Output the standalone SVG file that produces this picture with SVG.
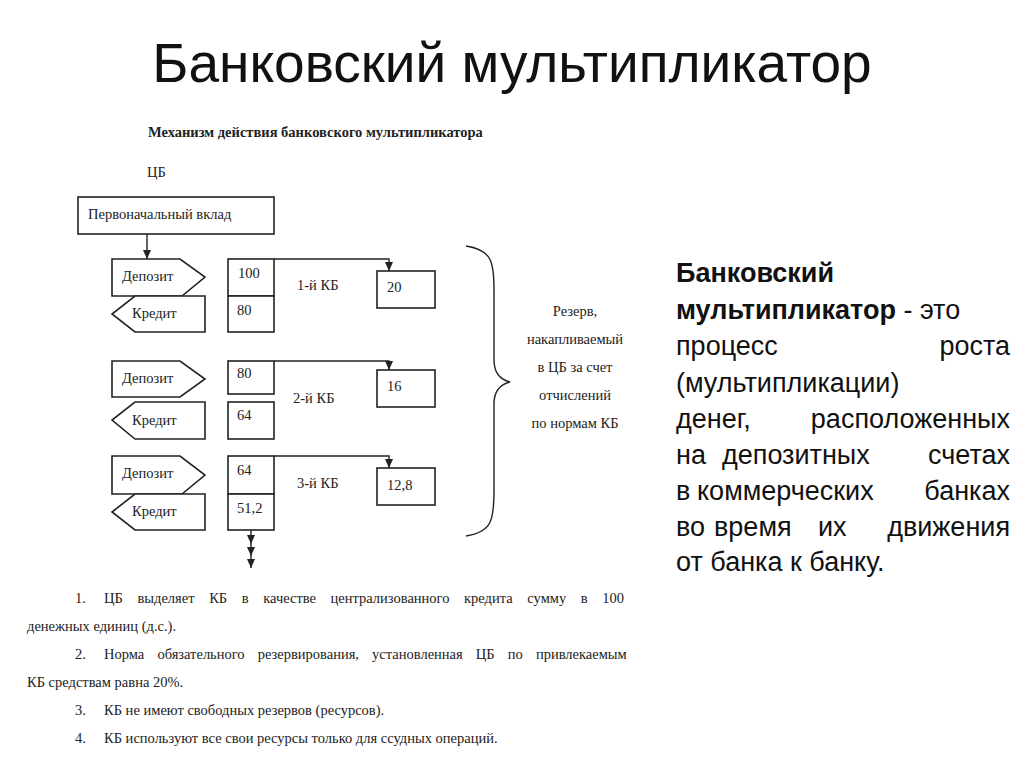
<svg xmlns="http://www.w3.org/2000/svg" width="1024" height="767" viewBox="0 0 1024 767">
<style>
.s{font-family:"Liberation Serif",serif;font-size:14.5px;fill:#222}
.b{fill:#fff;stroke:#222;stroke-width:1.6}
.l{fill:none;stroke:#222;stroke-width:1.4}
.r{font-family:"Liberation Sans",Arial,sans-serif;font-size:27px;fill:#111}
</style>
<defs><marker id="a" markerWidth="10" markerHeight="10" refX="5" refY="9" orient="0" markerUnits="userSpaceOnUse"><path d="M1,0 L9,0 L5,9 Z" fill="#222"/></marker></defs>
<rect width="1024" height="767" fill="#fff"/>
<text x="512" y="82" text-anchor="middle" font-family="Liberation Sans,Arial,sans-serif" font-size="55" fill="#111">Банковский мультипликатор</text>
<text x="148" y="137" class="s" font-weight="bold" font-size="13.5">Механизм действия банковского мультипликатора</text>
<text x="147" y="177" class="s">ЦБ</text>
<g id="n0"><rect class="b" x="78" y="197" width="196" height="37"/><text class="s" x="88" y="219">Первоначальный вклад</text></g>
<g id="k1">
<path class="b" d="M112,259H180L205,277L182,296H112Z"/><text class="s" x="122" y="281">Депозит</text>
<path class="b" d="M135,296H205V332H135L112,314Z"/><text class="s" x="132" y="318">Кредит</text>
<rect class="b" x="228" y="259" width="46" height="37"/><text class="s" x="238" y="278">100</text>
<rect class="b" x="228" y="296" width="46" height="36"/><text class="s" x="237" y="315">80</text>
<text class="s" x="297" y="290">1-й КБ</text>
<rect class="b" x="377" y="271" width="58" height="37"/><text class="s" x="387" y="292">20</text></g>
<g id="k2">
<path class="b" d="M112,361H180L205,379L180,397H112Z"/><text class="s" x="122" y="383">Депозит</text>
<path class="b" d="M135,402H205V439H135L112,420Z"/><text class="s" x="132" y="425">Кредит</text>
<rect class="b" x="228" y="361" width="46" height="33"/><text class="s" x="237" y="378">80</text>
<rect class="b" x="228" y="402" width="46" height="37"/><text class="s" x="237" y="420">64</text>
<text class="s" x="293" y="403">2-й КБ</text>
<rect class="b" x="377" y="370" width="58" height="37"/><text class="s" x="387" y="391">16</text></g>
<g id="k3">
<path class="b" d="M112,456H180L205,475L182,494H112Z"/><text class="s" x="122" y="478">Депозит</text>
<path class="b" d="M135,494H205V530H135L112,512Z"/><text class="s" x="132" y="516">Кредит</text>
<rect class="b" x="228" y="456" width="46" height="38"/><text class="s" x="237" y="475">64</text>
<rect class="b" x="228" y="494" width="46" height="36"/><text class="s" x="237" y="513">51,2</text>
<text class="s" x="297" y="488">3-й КБ</text>
<rect class="b" x="377" y="468" width="58" height="37"/><text class="s" x="387" y="490">12,8</text></g>
<g id="conn">
<path class="l" d="M147,234V259" marker-end="url(#a)"/>
<path class="l" d="M274,259H389V271" marker-end="url(#a)"/>
<path class="l" d="M274,361H389V370" marker-end="url(#a)"/>
<path class="l" d="M274,456H389V468" marker-end="url(#a)"/>
<path class="l" d="M251,530V544" marker-end="url(#a)"/>
<path class="l" d="M251,544V556" marker-end="url(#a)"/>
<path class="l" d="M251,556V568" marker-end="url(#a)"/>
<path class="l" d="M466,246C492,250 494,262 494,290V360Q494,378 510,382Q494,386 494,404V490C494,520 492,532 466,536" stroke-width="1.6"/>
</g>
<g id="reserve" class="s" text-anchor="middle" font-size="13.5"><text x="575" y="316">Резерв,</text><text x="575" y="344">накапливаемый</text><text x="575" y="372">в ЦБ за счет</text><text x="575" y="400">отчислений</text><text x="575" y="428">по нормам КБ</text></g>
<g class="s">
<text x="75" y="603">1.</text><text x="104" y="603" word-spacing="11">ЦБ выделяет КБ в качестве централизованного кредита сумму в 100</text>
<text x="27" y="631">денежных единиц (д.с.).</text>
<text x="75" y="659">2.</text><text x="104" y="659" word-spacing="9.5">Норма обязательного резервирования, установленная ЦБ по привлекаемым</text>
<text x="27" y="687">КБ средствам равна 20%.</text>
<text x="75" y="715">3.</text><text x="104" y="715">КБ не имеют свободных резервов (ресурсов).</text>
<text x="75" y="743">4.</text><text x="104" y="743">КБ используют все свои ресурсы только для ссудных операций.</text>
</g>
<g id="def" class="r">
<text x="676" y="282" font-weight="bold">Банковский</text>
<text x="676" y="319"><tspan font-weight="bold">мультипликатор</tspan> - это</text>
<text x="676" y="355">процесс</text><text x="1010" y="355" text-anchor="end">роста</text>
<text x="676" y="392">(мультипликации)</text>
<text x="676" y="428">денег,</text><text x="1010" y="428" text-anchor="end">расположенных</text>
<text x="676" y="464">на</text><text x="722" y="464">депозитных</text><text x="1010" y="464" text-anchor="end">счетах</text>
<text x="676" y="500">в</text><text x="697" y="500">коммерческих</text><text x="1010" y="500" text-anchor="end">банках</text>
<text x="676" y="536">во</text><text x="714" y="536">время</text><text x="818" y="536">их</text><text x="1010" y="536" text-anchor="end">движения</text>
<text x="676" y="571">от банка к банку.</text>
</g>
</svg>
